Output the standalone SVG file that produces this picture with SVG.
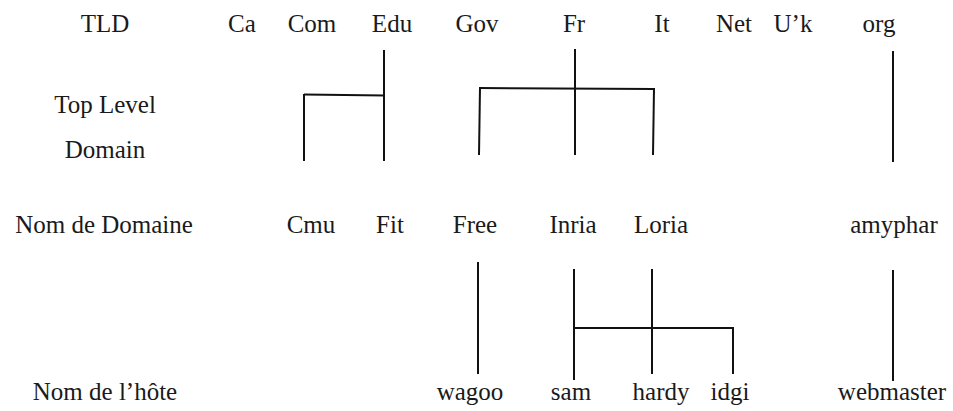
<svg xmlns="http://www.w3.org/2000/svg" width="953" height="411" viewBox="0 0 953 411">
<style>
text{font-family:'Liberation Serif','DejaVu Serif',serif;font-size:25px;fill:#1a1a1a;text-anchor:middle}
.c line{stroke:#111;stroke-width:2;stroke-linecap:butt}
</style>
<rect width="953" height="411" fill="#fff"/>
<g id="labels">
<text x="105" y="32">TLD</text>
<text x="105" y="113">Top Level</text>
<text x="105" y="158">Domain</text>
<text x="104" y="233">Nom de Domaine</text>
<text x="105" y="400">Nom de l’hôte</text>
</g>
<g id="tld">
<g id="n-ca"><text x="242" y="32">Ca</text></g>
<g id="n-com"><text x="312" y="32">Com</text></g>
<g id="n-edu"><text x="392" y="32">Edu</text></g>
<g id="n-gov"><text x="477" y="32">Gov</text></g>
<g id="n-fr"><text x="574" y="32">Fr</text></g>
<g id="n-it"><text x="662" y="32">It</text></g>
<g id="n-net"><text x="734" y="32">Net</text></g>
<g id="n-uk"><text x="793" y="32">U’k</text></g>
<g id="n-org"><text x="879" y="32">org</text></g>
</g>
<g id="domains">
<g id="n-cmu"><text x="311" y="233">Cmu</text></g>
<g id="n-fit"><text x="390" y="233">Fit</text></g>
<g id="n-free"><text x="475" y="233">Free</text></g>
<g id="n-inria"><text x="573" y="233">Inria</text></g>
<g id="n-loria"><text x="661" y="233">Loria</text></g>
<g id="n-amyphar"><text x="894" y="233">amyphar</text></g>
</g>
<g id="hosts">
<g id="n-wagoo"><text x="470" y="400">wagoo</text></g>
<g id="n-sam"><text x="571" y="400">sam</text></g>
<g id="n-hardy"><text x="661" y="400">hardy</text></g>
<g id="n-idgi"><text x="730" y="400">idgi</text></g>
<g id="n-webmaster"><text x="892" y="400">webmaster</text></g>
</g>
<g id="connectors" class="c">
<line x1="384" y1="50" x2="384" y2="161"/>
<line x1="304" y1="94.5" x2="385" y2="95.5"/>
<line x1="304" y1="94" x2="304" y2="161"/>
<line x1="575" y1="49" x2="575" y2="155"/>
<line x1="479" y1="88" x2="655" y2="89"/>
<line x1="480" y1="87" x2="479" y2="155"/>
<line x1="654" y1="88" x2="653" y2="155"/>
<line x1="893" y1="51" x2="893" y2="162"/>
<line x1="478" y1="262" x2="478" y2="374"/>
<line x1="574" y1="269" x2="574" y2="380"/>
<line x1="652" y1="269" x2="652" y2="374"/>
<line x1="574" y1="328" x2="734" y2="328"/>
<line x1="733" y1="327" x2="733" y2="374"/>
<line x1="893" y1="270" x2="893" y2="381"/>
</g>
</svg>
